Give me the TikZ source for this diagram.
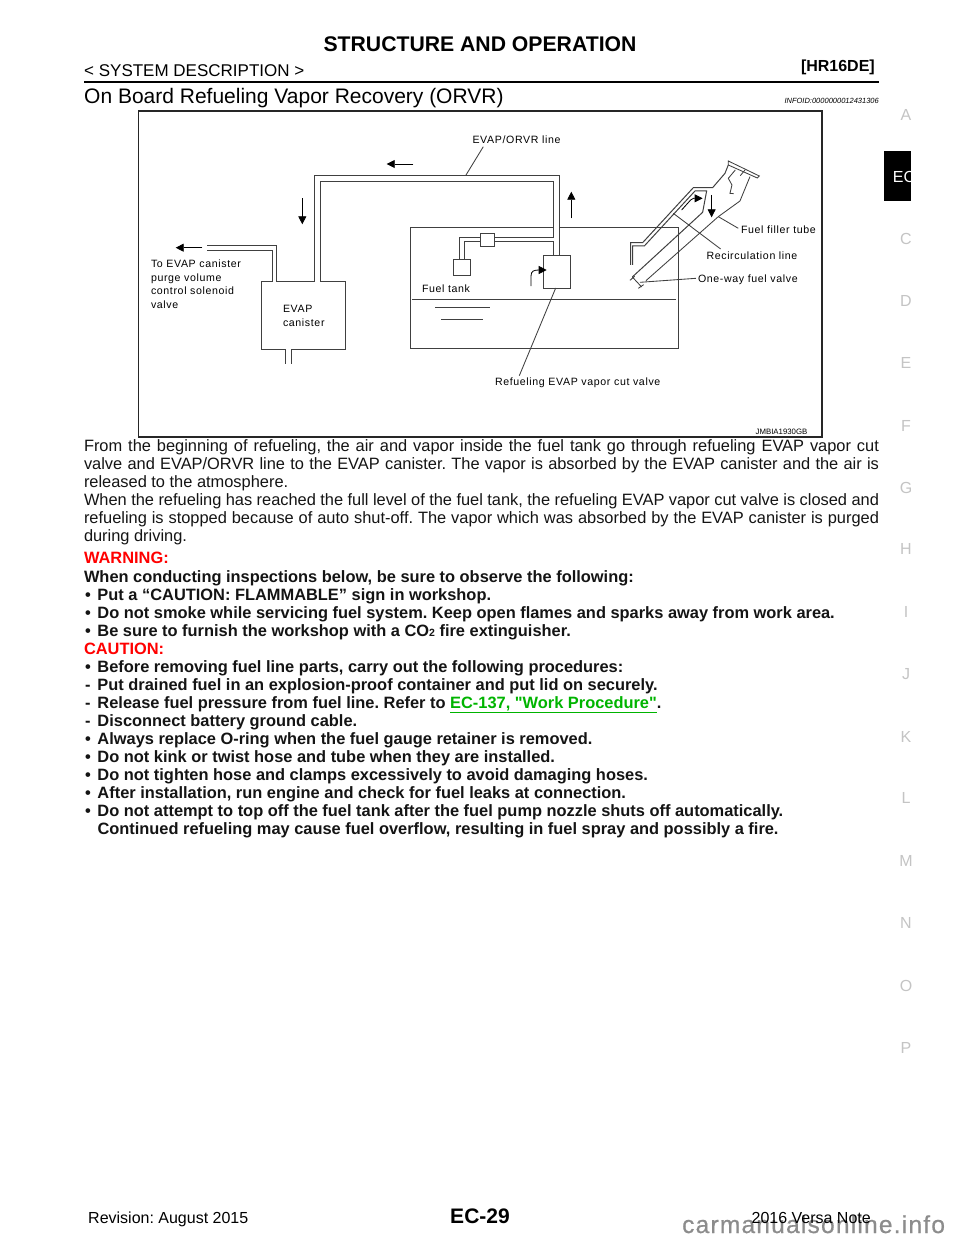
\documentclass[tikz,border=0pt]{standalone}
\usepackage{fontspec}
\setmainfont{Liberation Sans}
\newfontfamily\lblfont[LetterSpace=6]{Liberation Sans}
\newfontfamily\wmfont[LetterSpace=5,FakeBold=0.6]{Liberation Sans}
\newfontfamily\pq{Liberation Sans}
\usetikzlibrary{arrows.meta}
\definecolor{linkgreen}{HTML}{00B400}
\definecolor{sidegray}{HTML}{C4C4C4}
\definecolor{dline}{HTML}{404040}
\tikzset{
  x=1pt,y=-1pt,
  txt/.style={anchor=base west,inner sep=0pt,outer sep=0pt,font=\fontsize{16.4}{18}\selectfont,text=black!92},
  btxt/.style={txt,font=\fontsize{16.4}{18}\selectfont\bfseries},
  lbl/.style={anchor=base west,inner sep=0pt,outer sep=0pt,font=\fontsize{10.6}{13}\selectfont\lblfont,text=black},
  side/.style={inner sep=0pt,font=\fontsize{16}{18}\selectfont,text=sidegray},
  pipe/.style={draw=dline,line width=1pt,line join=miter},
  thinl/.style={draw=dline,line width=0.85pt},
  flow/.style={draw=black,line width=0.8pt,-{Triangle[length=8pt,width=8pt]}},
}
\newcommand{\jline}[1]{\makebox[795pt][s]{#1}}
\newcommand{\bul}{\makebox[13.5pt][l]{\hspace{1pt}•}}
\newcommand{\dsh}{\makebox[13.5pt][l]{\hspace{1pt}-}}
\newcommand{\sq}{{\pq\bfseries "}}
\begin{document}
\frenchspacing
\begin{tikzpicture}
\useasboundingbox (0,0) rectangle (960,1242);
\fill[white] (0,0) rectangle (960,1242);
% header
\node[anchor=base,inner sep=0pt,font=\fontsize{21.2}{24}\selectfont\bfseries] (title) at (480,51) {STRUCTURE AND OPERATION};
\node[anchor=base west,inner sep=0pt,font=\fontsize{17}{20}\selectfont] (sec) at (84,76) {< SYSTEM DESCRIPTION >};
\node[anchor=base east,inner sep=0pt,font=\fontsize{16}{20}\selectfont\bfseries] (hr) at (875,71) {[HR16DE]};
\draw[black,line width=2.4pt] (84,82) -- (879,82);
\node[anchor=base west,inner sep=0pt,font=\fontsize{21}{24}\selectfont] (head) at (84,103) {On Board Refueling Vapor Recovery (ORVR)};
\node[anchor=base east,inner sep=0pt,font=\fontsize{7.5}{9}\selectfont\itshape] (info) at (879,103) {INFOID:0000000012431306};
% frame
\draw[draw=black!85,line width=1.7pt] (138.5,110.7) rectangle (821.7,436.7);
\node[anchor=base east,inner sep=0pt,font=\fontsize{7.8}{9}\selectfont] (code) at (807.5,434.5) {JMBIA1930GB};
% tank
\draw[thinl] (553.7,227.3) -- (410,227.3) -- (410,348.7) -- (678.3,348.7) -- (678.3,227.3) -- (559.3,227.3);
\draw[thinl] (412,299) -- (676,299);
\draw[thinl] (435,307.3) -- (490,307.3);
\draw[thinl] (441,319) -- (483.3,319);
% main pipe
\draw[pipe] (314.3,281.7) -- (314.3,175) -- (559.3,175) -- (559.3,255);
\draw[pipe] (320.3,281.7) -- (320.3,181.3) -- (553.7,181.3) -- (553.7,237);
\draw[pipe] (553.7,241.7) -- (553.7,255);
% canister
\draw[thinl] (272.7,281.7) -- (261,281.7) -- (261,349.7) -- (285.7,349.7) -- (285.7,363.7);
\draw[thinl] (276.7,281.7) -- (314.3,281.7);
\draw[thinl] (320.3,281.7) -- (345.3,281.7) -- (345.3,349.7) -- (291.7,349.7) -- (291.7,363.7);
\draw[pipe] (272.7,281.7) -- (272.7,250) -- (207.3,250);
\draw[pipe] (276.7,281.7) -- (276.7,245.3) -- (207.3,245.3);
% float
\draw[thinl] (453.3,259) rectangle (470,275.7);
\draw[thinl] (459.7,259) -- (459.7,237) -- (480.7,237);
\draw[thinl] (464.3,259) -- (464.3,241.7) -- (480.7,241.7);
\draw[thinl] (480.7,233) rectangle (494.7,246.3);
\draw[thinl] (494.7,237) -- (553.7,237);
\draw[thinl] (494.7,241.7) -- (553.7,241.7);
% valve
\draw[thinl] (543.3,255) rectangle (570.3,288);
% flow arrows
\coordinate (a1s) at (413.3,164); \coordinate (a1e) at (386.7,164);
\draw[flow] (a1s) -- (a1e);
\coordinate (a2s) at (302.3,198.3); \coordinate (a2e) at (302.3,224.3);
\draw[flow] (a2s) -- (a2e);
\coordinate (a3s) at (202.3,247.7); \coordinate (a3e) at (175.7,247.7);
\draw[flow] (a3s) -- (a3e);
\coordinate (a4s) at (571.3,218.3); \coordinate (a4e) at (571.3,191.7);
\draw[flow] (a4s) -- (a4e);
\coordinate (a5s) at (531,286); \coordinate (a5e) at (546.7,270);
\draw[flow] (a5s) -- (531,276) .. controls (531,271) and (534,270) .. (a5e);
% filler tube (scaled from the reference)
\begin{scope}[shift={(400,105)},x=0.3333pt,y=-0.3333pt]
\draw[thinl,fill=white] (985,168) -- (1078,213) -- (1072,219) -- (985,180) -- cycle;
\draw[pipe] (692,480) -- (692,413) -- (728,413) -- (880,248) -- (938,248) -- (975,205) -- (985,180);
\draw[pipe] (698,480) -- (698,423) -- (733,423) -- (885,258) -- (920,258) -- (908,322) -- (697,516);
\draw[thinl] (738,527) -- (955,335) -- (1020,288) -- (1050,215);
\draw[thinl] (697,516) -- (725,546);
\draw[thinl] (690,526) -- (704,514);
\draw[thinl] (715,550) -- (731,539);
\draw[thinl] (1006,195) -- (985,220) -- (996,240) -- (990,265) -- (1001,266);
\draw[thinl] (1021,212) -- (1035,195);
\draw[flow] (845,315) -- (872,285) .. controls (878,278) and (885,280) .. (908,280);
\draw[flow] (935,270) -- (935,337);
\coordinate (lf1) at (955,335); \coordinate (lf2) at (1015,370);
\coordinate (lr1) at (820,325); \coordinate (lr2) at (962,432);
\coordinate (lo1) at (888,520); \coordinate (lo2) at (720,532);
\draw[thinl] (lf1) -- (lf2);
\draw[thinl] (lr1) -- (lr2);
\draw[thinl] (lo1) -- (lo2);
\end{scope}
% leaders
\coordinate (lv1) at (555.7,288); \coordinate (lv2) at (519.3,375.7);
\draw[thinl] (lv1) -- (lv2);
\coordinate (le1) at (466,175); \coordinate (le2) at (483.3,146.7);
\draw[thinl] (le1) -- (le2);
% diagram labels
\node[lbl] (l1) at (472.5,143) {EVAP/ORVR line};
\node[lbl] (l2) at (741,233) {Fuel filler tube};
\node[lbl] (l3) at (706.5,259) {Recirculation line};
\node[lbl] (l4) at (698,282.5) {One-way fuel valve};
\node[lbl] (l5) at (495,385.5) {Refueling EVAP vapor cut valve};
\node[lbl] (l6) at (422,292) {Fuel tank};
\node[lbl] (l7) at (283,312) {EVAP};
\node[lbl] (l8) at (283,326) {canister};
\node[lbl] (l9) at (151,267.5) {To EVAP canister};
\node[lbl] (l10) at (151,281) {purge volume};
\node[lbl] (l11) at (151,294.5) {control solenoid};
\node[lbl] (l12) at (151,308) {valve};
% body
\node[txt] (b1) at (84,451) {\jline{From the beginning of refueling, the air and vapor inside the fuel tank go through refueling EVAP vapor cut}};
\node[txt] (b2) at (84,469) {\jline{valve and EVAP/ORVR line to the EVAP canister. The vapor is absorbed by the EVAP canister and the air is}};
\node[txt] (b3) at (84,487) {released to the atmosphere.};
\node[txt] (b4) at (84,505) {\jline{When the refueling has reached the full level of the fuel tank, the refueling EVAP vapor cut valve is closed and}};
\node[txt] (b5) at (84,523) {\jline{refueling is stopped because of auto shut-off. The vapor which was absorbed by the EVAP canister is purged}};
\node[txt] (b6) at (84,541) {during driving.};
\node[btxt,text=red] (w0) at (84,563) {WARNING:};
\node[btxt] (w1) at (84,582) {When conducting inspections below, be sure to observe the following:};
\node[btxt] (w2) at (84,600) {\bul Put a “CAUTION: FLAMMABLE” sign in workshop.};
\node[btxt] (w3) at (84,618) {\bul Do not smoke while servicing fuel system. Keep open flames and sparks away from work area.};
\node[btxt] (w4) at (84,636) {\bul Be sure to furnish the workshop with a CO{\fontsize{10.5}{12}\selectfont 2} fire extinguisher.};
\node[btxt,text=red] (c0) at (84,654) {CAUTION:};
\node[btxt] (c1) at (84,672) {\bul Before removing fuel line parts, carry out the following procedures:};
\node[btxt] (c2) at (84,690) {\dsh Put drained fuel in an explosion-proof container and put lid on securely.};
\node[btxt] (c3) at (84,708) {\dsh Release fuel pressure from fuel line. Refer to \textcolor{linkgreen}{\underline{EC-137, \sq Work Procedure\sq}}.};
\node[btxt] (c4) at (84,726) {\dsh Disconnect battery ground cable.};
\node[btxt] (c5) at (84,744) {\bul Always replace O-ring when the fuel gauge retainer is removed.};
\node[btxt] (c6) at (84,762) {\bul Do not kink or twist hose and tube when they are installed.};
\node[btxt] (c7) at (84,780) {\bul Do not tighten hose and clamps excessively to avoid damaging hoses.};
\node[btxt] (c8) at (84,798) {\bul After installation, run engine and check for fuel leaks at connection.};
\node[btxt] (c9) at (84,816) {\bul Do not attempt to top off the fuel tank after the fuel pump nozzle shuts off automatically.};
\node[btxt] (c10) at (97.5,834) {Continued refueling may cause fuel overflow, resulting in fuel spray and possibly a fire.};
% side tab
\fill[black] (884,150.5) rectangle (911.3,200.5);
\begin{scope}
\clip (884,150.5) rectangle (911.3,200.5);
\node[anchor=center,inner sep=0pt,text=white,font=\fontsize{16}{18}\selectfont] (ec) at (904,177) {EC};
\end{scope}
\node[side] (sa) at (906,115) {A};
\node[side] (sc) at (906,239) {C};
\node[side] (sd) at (906,301) {D};
\node[side] (se) at (906,363) {E};
\node[side] (sf) at (906,426) {F};
\node[side] (sg) at (906,488) {G};
\node[side] (sh) at (906,549) {H};
\node[side] (si) at (906,612) {I};
\node[side] (sj) at (906,674) {J};
\node[side] (sk) at (906,737) {K};
\node[side] (sl) at (906,798) {L};
\node[side] (sm) at (906,861) {M};
\node[side] (sn) at (906,923) {N};
\node[side] (so) at (906,986) {O};
\node[side] (sp) at (906,1048) {P};
% footer
\node[anchor=base west,inner sep=0pt,font=\fontsize{24.5}{26}\selectfont\wmfont,text=black!45] (wm) at (682,1233) {carmanualsonline.info};
\node[anchor=base west,inner sep=0pt,font=\fontsize{16}{18}\selectfont] (f1) at (88,1223) {Revision: August 2015};
\node[anchor=base,inner sep=0pt,font=\fontsize{21}{24}\selectfont\bfseries] (f2) at (480,1223) {EC-29};
\node[anchor=base east,inner sep=0pt,font=\fontsize{16}{18}\selectfont] (f3) at (871,1223) {2016 Versa Note};
\end{tikzpicture}
\end{document}
